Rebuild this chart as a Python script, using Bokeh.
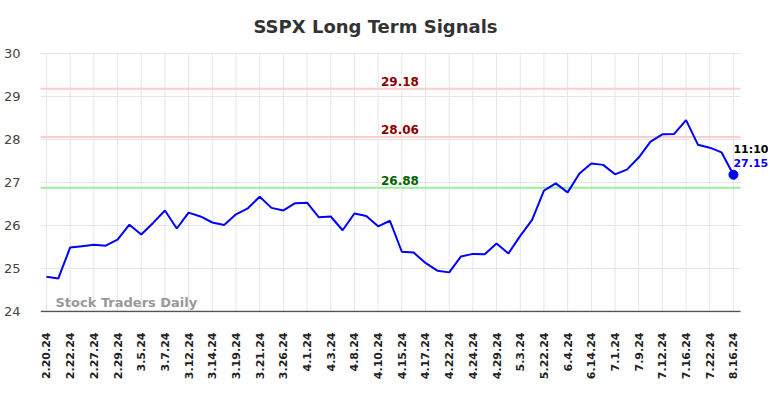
from bokeh.plotting import figure
from bokeh.models import Label, FixedTicker, Range1d
from bokeh.embed import file_html
from bokeh.resources import INLINE
import math

tick_labels = ["2.20.24", "2.22.24", "2.27.24", "2.29.24", "3.5.24", "3.7.24", "3.12.24",
               "3.14.24", "3.19.24", "3.21.24", "3.26.24", "4.1.24", "4.3.24", "4.8.24",
               "4.10.24", "4.15.24", "4.17.24", "4.22.24", "4.24.24", "4.29.24", "5.3.24",
               "5.22.24", "6.4.24", "6.14.24", "7.1.24", "7.9.24", "7.12.24", "7.16.24",
               "7.22.24", "8.16.24"]

prices = [24.81, 24.77, 25.49, 25.52, 25.55, 25.53, 25.67, 26.02, 25.79, 26.06,
          26.35, 25.93, 26.30, 26.21, 26.07, 26.01, 26.26, 26.40, 26.67, 26.41,
          26.35, 26.52, 26.53, 26.19, 26.21, 25.89, 26.28, 26.22, 25.98, 26.11,
          25.39, 25.37, 25.13, 24.95, 24.91, 25.28, 25.34, 25.33, 25.58, 25.35,
          25.76, 26.13, 26.81, 26.98, 26.77, 27.21, 27.44, 27.41, 27.19, 27.30,
          27.58, 27.95, 28.12, 28.13, 28.45, 27.88, 27.81, 27.70, 27.18]

y_ticks = [24, 25, 26, 27, 28, 29, 30]
levels_upper = [29.18, 28.06]
level_lower = 26.88
last_time = "11:10"
last_price = 27.15
title_text = "SSPX Long Term Signals"
watermark = "Stock Traders Daily"

FONT = "DejaVu Sans"
xs = [i / 2 for i in range(len(prices))]

X0, XG, X1 = -0.253, 29.30, 30.48      # frame start, grid end, frame end
Y0, YG, Y1 = 24.0, 30.0, 31.233        # axis value, grid top, frame top
YB = Y0 - 1.0 / 43                     # frame bottom (1px below axis)

p = figure(width=768, height=382, output_backend="svg", toolbar_location=None,
           x_range=Range1d(X0, X1), y_range=Range1d(YB, Y1),
           min_border_left=39, min_border_right=0, min_border_top=0, min_border_bottom=70)
p.outline_line_color = None
p.background_fill_color = "white"
p.border_fill_color = "white"
p.xgrid.grid_line_color = None
p.ygrid.grid_line_color = None

# manual grid
n = len(tick_labels)
p.segment(x0=list(range(n)), y0=[Y0] * n, x1=list(range(n)), y1=[YG] * n,
          line_color="#e6e6e6", line_width=1)
gy = y_ticks[1:]
p.segment(x0=[X0] * len(gy), y0=gy, x1=[XG] * len(gy), y1=gy,
          line_color="#e6e6e6", line_width=1)

# x axis
p.xaxis.ticker = FixedTicker(ticks=list(range(n)))
p.xaxis.major_label_overrides = {i: t for i, t in enumerate(tick_labels)}
p.xaxis.major_label_orientation = math.pi / 2
p.xaxis.major_label_text_font = FONT
p.xaxis.major_label_text_font_size = "11px"
p.xaxis.major_label_text_font_style = "bold"
p.xaxis.major_label_text_color = "#222222"
p.xaxis.major_tick_line_color = None
p.xaxis.minor_tick_line_color = None
p.xaxis.major_label_standoff = 14
p.xaxis.axis_line_color = None
p.segment(x0=[X0], y0=[Y0], x1=[XG], y1=[Y0], line_color="#555555", line_width=1.5)

# y axis
p.yaxis.ticker = FixedTicker(ticks=y_ticks)
p.yaxis.major_label_text_font = FONT
p.yaxis.major_label_text_font_size = "13px"
p.yaxis.major_label_text_color = "#444444"
p.yaxis.major_tick_line_color = None
p.yaxis.minor_tick_line_color = None
p.yaxis.axis_line_color = None
p.yaxis.major_label_standoff = 14

# level lines
for lv in levels_upper:
    p.segment(x0=[X0], y0=[lv], x1=[XG], y1=[lv], line_color="#ffcccc", line_width=2)
    p.add_layout(Label(x=14.92, y=lv, y_offset=3, text=f"{lv:.2f}", text_align="center",
                       text_baseline="bottom", text_font=FONT, text_font_size="12px",
                       text_font_style="bold", text_color="#8b0000"))
p.segment(x0=[X0], y0=[level_lower], x1=[XG], y1=[level_lower], line_color="#99ee99", line_width=2)
p.add_layout(Label(x=14.92, y=level_lower, y_offset=3, text=f"{level_lower:.2f}", text_align="center",
                   text_baseline="bottom", text_font=FONT, text_font_size="12px",
                   text_font_style="bold", text_color="#006400"))

# price line
p.line(xs, prices, line_color="#0000ff", line_width=2)
p.scatter([xs[-1]], [prices[-1]], size=9, fill_color="#0000ff", line_color="#0000ff")

# last annotations
p.add_layout(Label(x=xs[-1], y=prices[-1], x_offset=0, y_offset=25, text=last_time,
                   text_align="left", text_baseline="middle", text_font=FONT,
                   text_font_size="11px", text_font_style="bold", text_color="#000000"))
p.add_layout(Label(x=xs[-1], y=prices[-1], x_offset=0, y_offset=12, text=f"{last_price:.2f}",
                   text_align="left", text_baseline="middle", text_font=FONT,
                   text_font_size="11px", text_font_style="bold", text_color="#0000ff"))

# watermark
p.add_layout(Label(x=0.38, y=Y0, y_offset=9, text=watermark, text_align="left",
                   text_baseline="middle", text_font=FONT, text_font_size="13px",
                   text_font_style="bold", text_color="#999999"))

# title
p.add_layout(Label(x=13.89, y=30.628, text=title_text, text_align="center",
                   text_baseline="middle", text_font=FONT, text_font_size="18px",
                   text_font_style="bold", text_color="#333333"))

open("out.html", "w").write(file_html(p, INLINE))
